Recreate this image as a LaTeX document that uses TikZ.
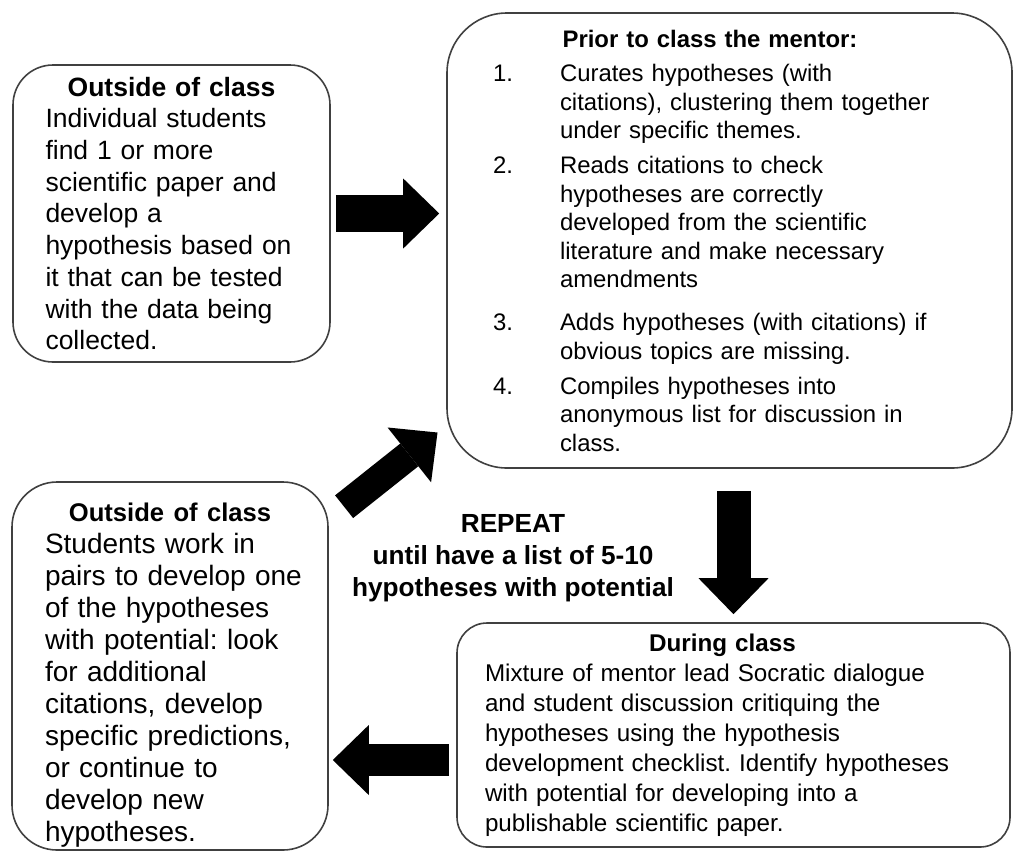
\documentclass[tikz,border=0pt]{standalone}
\usepackage{fontspec}
\setmainfont{Liberation Sans}
\usetikzlibrary{arrows.meta}
\frenchspacing

\newcommand{\mentoritem}[3]{\par\vspace{#1}\hangindent=33.5pt\hangafter=1\noindent\makebox[33.5pt][l]{#2}#3\par}

\begin{document}
\begin{tikzpicture}[x=0.5pt,y=-0.5pt,
  box/.style={draw=black!75, line width=0.8pt, inner ysep=0pt, align=left},
  bigarrow/.style={draw=black, line width=17pt, -{Triangle[length=18pt,width=35pt,line width=0pt]}}]
  \useasboundingbox (0,0) rectangle (1015,851);
  \node[box, rounded corners=20pt, minimum width=158.5pt, minimum height=148.5pt, text width=126pt, inner xsep=16.25pt,
    font=\fontsize{13.25pt}{15.85pt}\selectfont] (b1) at (171.5,213.5)
    {{\centering\bfseries Outside of class\par}
     Individual students\\find 1 or more\\scientific paper and\\develop a\\hypothesis based on\\it that can be tested\\with the data being\\collected.};
  \node[box, rounded corners=30pt, minimum width=282.5pt, minimum height=227.5pt, text width=236.5pt, inner xsep=23pt,
    font=\fontsize{11.95pt}{14.25pt}\selectfont] (b2) at (729.5,240.5)
    {\makebox[217pt]{\bfseries Prior to class the mentor:}\par
     \mentoritem{3pt}{1.}{Curates hypotheses (with\newline citations), clustering them together\newline under specific themes.}
     \mentoritem{3.25pt}{2.}{Reads citations to check\newline hypotheses are correctly\newline developed from the scientific\newline literature and make necessary\newline amendments}
     \mentoritem{7.25pt}{3.}{Adds hypotheses (with citations) if\newline obvious topics are missing.}
     \mentoritem{3.25pt}{4.}{Compiles hypotheses into\newline anonymous list for discussion in\newline class.}};
  \node[box, rounded corners=22.5pt, minimum width=158pt, minimum height=184pt, text width=141pt, inner xsep=8.5pt,
    font=\fontsize{14pt}{16pt}\selectfont] (b3) at (170,666)
    {\leftskip=8pt
     {\centering\fontsize{12.8pt}{16pt}\selectfont\bfseries\rule{0pt}{18pt}Outside of class\par}
     Students work in\\pairs to develop one\\of the hypotheses\\with potential: look\\for additional\\citations, develop\\specific predictions,\\or continue to\\develop new\\hypotheses.\par};
  \node[box, rounded corners=15pt, minimum width=276.5pt, minimum height=112pt, text width=248.5pt, inner xsep=14pt,
    font=\fontsize{12.1pt}{15pt}\selectfont] (b4) at (733.5,735)
    {\makebox[237.5pt]{\bfseries During class}\\
     Mixture of mentor lead Socratic dialogue\\and student discussion critiquing the\\hypotheses using the hypothesis\\development checklist. Identify hypotheses\\with potential for developing into a\\publishable scientific paper.};
  \node[align=center, font=\fontsize{13.1pt}{16pt}\selectfont\bfseries] (rpt) at (513,558)
    {REPEAT\\until have a list of 5-10\\hypotheses with potential};
  \coordinate (l0) at ([yshift=-12.5pt]b4.west);
  \draw[bigarrow, line width=18.5pt, shorten <=2.5pt, shorten >=3.5pt] (b1.east) -- (b1.east -| b2.west);
  \draw[bigarrow, shorten <=11pt, shorten >=4pt] (b4.north |- b2.south) -- (b4.north);
  \draw[bigarrow, line width=16pt, shorten <=3.5pt, shorten >=2pt] (l0) -- (l0 -| b3.east);
  \draw[bigarrow, line width=14.5pt] ([xshift=7.65pt,yshift=-12.75pt]b3.north east) -- ([xshift=-4.35pt,yshift=18.15pt]b2.south west);
\end{tikzpicture}
\end{document}
